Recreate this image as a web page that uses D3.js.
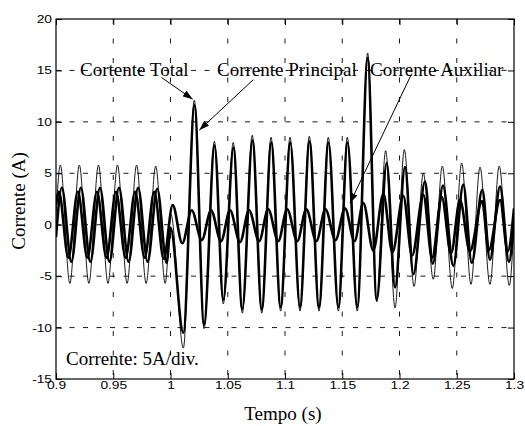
<!DOCTYPE html>
<html>
<head>
<meta charset="utf-8">
<script src="https://cdn.jsdelivr.net/npm/d3@7"></script>
<style>
  body { margin: 0; background: #fff; }
  svg { display: block; }
  .tick text { font-family: 'Liberation Sans', Arial, sans-serif; font-size: 11px; fill: #000; }
  .serif { font-family: 'Liberation Serif', 'Times New Roman', serif; font-size: 19px; fill: #000; }
</style>
</head>
<body>
<svg id="chart" width="525" height="426"></svg>
<script>
// tick labels
const xTicks = [0.9, 0.95, 1, 1.05, 1.1, 1.15, 1.2, 1.25, 1.3];
const yTicks = [-15, -10, -5, 0, 5, 10, 15, 20];

// [tempo (s), corrente (A)] read at the peaks / valleys of each trace
const correnteTotal = [
  [0.9, 0.8], [0.9038, 5.8], [0.9121, -5.7], [0.9204, 5.8], [0.9287, -5.7],
  [0.9371, 5.8], [0.9454, -5.7], [0.9537, 5.8], [0.9621, -5.7], [0.9704, 5.8],
  [0.9787, -5.7], [0.9871, 5.7], [0.9954, -5.7], [1.0004, 1.0], [1.0112, -12.0],
  [1.0208, 12.1], [1.0293, -10.1], [1.0383, 8.1], [1.0461, -7.7], [1.0548, 8.0],
  [1.0627, -8.6], [1.0714, 8.7], [1.0797, -8.6], [1.0878, 8.5], [1.0962, -8.4],
  [1.1044, 8.5], [1.1131, -8.4], [1.1212, 8.6], [1.1297, -8.4], [1.1378, 8.5],
  [1.1466, -8.4], [1.1544, 8.5], [1.1631, -8.4], [1.1722, 16.7], [1.1801, -7.5],
  [1.1879, 7.2], [1.1961, -8.1], [1.2042, 7.3], [1.2127, -6.0], [1.2208, 5.0],
  [1.2295, -5.3], [1.2374, 5.7], [1.2461, -6.2], [1.2543, 6.0], [1.2624, -5.8],
  [1.2703, 5.6], [1.279, -5.8], [1.2871, 5.7], [1.2959, -5.9], [1.3, 0.2],
];
const correntePrincipal = [
  [0.9, -1.2], [0.9051, 3.6], [0.9134, -3.6], [0.9217, 3.6], [0.93, -3.6],
  [0.9384, 3.6], [0.9467, -3.6], [0.955, 3.6], [0.9634, -3.6], [0.9717, 3.6],
  [0.98, -3.6], [0.9884, 3.5], [0.9966, -3.7], [1.0, -0.3], [1.0112, -10.5],
  [1.021, 11.6], [1.0293, -9.7], [1.0385, 7.7], [1.0461, -7.3], [1.055, 7.5],
  [1.0627, -8.2], [1.0716, 8.2], [1.0797, -8.2], [1.088, 8.0], [1.0962, -8.0],
  [1.1046, 8.0], [1.1131, -8.0], [1.1214, 8.1], [1.1297, -8.0], [1.138, 8.0],
  [1.1466, -8.0], [1.1546, 8.0], [1.1631, -8.0], [1.1722, 16.2], [1.1801, -7.3],
  [1.1888, 6.0], [1.1961, -6.1], [1.2048, 5.6], [1.2121, -4.8], [1.2223, 4.2],
  [1.229, -3.8], [1.238, 3.8], [1.247, -4.0], [1.2557, 3.9], [1.2631, -3.7],
  [1.2723, 3.4], [1.279, -3.4], [1.2878, 3.7], [1.2956, -3.6], [1.3, 0.5],
];
const correnteAuxiliar = [
  [0.9, 1.9], [0.9025, 3.2], [0.9108, -3.2], [0.9191, 3.2], [0.9274, -3.2],
  [0.9358, 3.2], [0.9441, -3.2], [0.9524, 3.2], [0.9608, -3.2], [0.9691, 3.2],
  [0.9774, -3.2], [0.9858, 3.2], [0.9941, -3.3], [1.0019, 1.9], [1.0103, -1.8],
  [1.0185, 1.4], [1.0273, -1.5], [1.0354, 1.4], [1.0441, -1.6], [1.052, 1.4],
  [1.0607, -1.7], [1.0686, 1.4], [1.0774, -1.6], [1.0853, 1.5], [1.0941, -1.6],
  [1.1019, 1.5], [1.1107, -1.6], [1.1186, 1.5], [1.1274, -1.6], [1.1353, 1.5],
  [1.1441, -1.5], [1.1524, 1.6], [1.1607, -1.6], [1.1684, 2.1], [1.1771, -2.5],
  [1.1859, 3.0], [1.1938, -2.7], [1.2033, 2.8], [1.211, -3.0], [1.2208, 2.9],
  [1.2285, -3.2], [1.2369, 2.7], [1.245, -2.8], [1.2528, 2.4], [1.2615, -2.6],
  [1.2721, 2.3], [1.278, -2.5], [1.2878, 2.4], [1.2945, -2.6], [1.3, 1.6],
];

// text notes and arrows, placed in data units
const notes = [
  { text: 'Cortente Total', t: 0.921, i: 14.5 },
  { text: 'Corrente Principal', t: 1.0406, i: 14.5 },
  { text: 'Corrente Auxiliar', t: 1.1742, i: 14.5 },
  { text: 'Corrente: 5A/div.', t: 0.9087, i: -13.6 },
];
const arrows = [
  { from: [0.9923, 14.3], to: [1.0194, 12.2] },
  { from: [1.0723, 14.1], to: [1.0252, 9.2] },
  { from: [1.2107, 14.7], to: [1.1568, 2.1] },
];

const margin = { top: 19, right: 11, bottom: 47, left: 56 };
const width = 525 - margin.left - margin.right;
const height = 426 - margin.top - margin.bottom;

const xScale = d3
  .scaleLinear()
  .domain([0.9, 1.3])
  .range([0, width]);

const yScale = d3
  .scaleLinear()
  .domain([-15, 20])
  .range([height, 0]);

const svg = d3.select('#chart');

svg.append('defs')
  .append('clipPath')
  .attr('id', 'plot')
  .append('rect')
  .attr('width', width)
  .attr('height', height);

svg.select('defs')
  .append('marker')
  .attr('id', 'head')
  .attr('viewBox', '0 0 10 7')
  .attr('refX', 10)
  .attr('refY', 3.5)
  .attr('markerWidth', 10)
  .attr('markerHeight', 7)
  .attr('markerUnits', 'userSpaceOnUse')
  .attr('orient', 'auto')
  .append('path')
  .attr('d', 'M0,0L10,3.5L0,7Z');

const g = svg.append('g')
  .attr('transform', `translate(${margin.left},${margin.top})`);

// dashed grid
g.selectAll('line.vgrid')
  .data(xTicks.slice(1, -1))
  .enter()
  .append('line')
  .attr('class', 'vgrid')
  .attr('x1', d => xScale(d))
  .attr('x2', d => xScale(d))
  .attr('y1', 0)
  .attr('y2', height)
  .attr('stroke', '#000')
  .attr('stroke-width', 0.9)
  .attr('stroke-dasharray', '5,14.5');

g.selectAll('line.hgrid')
  .data(yTicks.slice(1, -1))
  .enter()
  .append('line')
  .attr('class', 'hgrid')
  .attr('x1', 0)
  .attr('x2', width)
  .attr('y1', d => yScale(d))
  .attr('y2', d => yScale(d))
  .attr('stroke', '#000')
  .attr('stroke-width', 0.9)
  .attr('stroke-dasharray', '5,8.5');

// axes with inward ticks on all four sides
const fmt = d => String(d);
g.append('g')
  .attr('transform', `translate(0,${height})`)
  .call(d3.axisBottom(xScale).tickValues(xTicks).tickFormat(fmt).tickSizeInner(-6).tickSizeOuter(0).tickPadding(2));
g.append('g')
  .call(d3.axisTop(xScale).tickValues(xTicks).tickFormat('').tickSizeInner(-6).tickSizeOuter(0));
g.append('g')
  .call(d3.axisLeft(yScale).tickValues(yTicks).tickFormat(fmt).tickSizeInner(-6).tickSizeOuter(0).tickPadding(4));
g.append('g')
  .attr('transform', `translate(${width},0)`)
  .call(d3.axisRight(yScale).tickValues(yTicks).tickFormat('').tickSizeInner(-6).tickSizeOuter(0));
g.selectAll('.domain').remove();
g.selectAll('.tick line').attr('stroke', '#000');

// the tick font in the figure is drawn a little wide
g.selectAll('.tick text').each(function () {
  const w = this.getComputedTextLength();
  if (w > 0) {
    d3.select(this)
      .attr('textLength', w * 1.25)
      .attr('lengthAdjust', 'spacingAndGlyphs');
  }
});

// traces
const lineGenerator = d3
  .line()
  .curve(d3.curveMonotoneX)
  .x(d => xScale(d[0]))
  .y(d => yScale(d[1]));

const traces = g.append('g').attr('clip-path', 'url(#plot)');
traces.append('path')
  .attr('d', lineGenerator(correnteTotal))
  .attr('fill', 'none')
  .attr('stroke', '#000')
  .attr('stroke-width', 0.9);
traces.append('path')
  .attr('d', lineGenerator(correnteAuxiliar))
  .attr('fill', 'none')
  .attr('stroke', '#000')
  .attr('stroke-width', 2.6)
  .attr('stroke-linejoin', 'round');
traces.append('path')
  .attr('d', lineGenerator(correntePrincipal))
  .attr('fill', 'none')
  .attr('stroke', '#000')
  .attr('stroke-width', 2.6)
  .attr('stroke-linejoin', 'round');

// frame
g.append('rect')
  .attr('width', width)
  .attr('height', height)
  .attr('fill', 'none')
  .attr('stroke', '#000')
  .attr('stroke-width', 1.2);

// notes and arrows
g.selectAll('text.note')
  .data(notes)
  .enter()
  .append('text')
  .attr('class', 'note serif')
  .attr('x', d => xScale(d.t))
  .attr('y', d => yScale(d.i))
  .text(d => d.text);

g.selectAll('line.arrow')
  .data(arrows)
  .enter()
  .append('line')
  .attr('class', 'arrow')
  .attr('x1', d => xScale(d.from[0]))
  .attr('y1', d => yScale(d.from[1]))
  .attr('x2', d => xScale(d.to[0]))
  .attr('y2', d => yScale(d.to[1]))
  .attr('stroke', '#000')
  .attr('stroke-width', 1)
  .attr('marker-end', 'url(#head)');

// axis titles
g.append('text')
  .attr('class', 'serif')
  .attr('x', width / 2 - 2)
  .attr('y', height + 41)
  .attr('text-anchor', 'middle')
  .text('Tempo (s)');

g.append('text')
  .attr('class', 'serif')
  .attr('transform', `translate(-31,${height / 2 + 2}) rotate(-90)`)
  .attr('text-anchor', 'middle')
  .text('Corrente (A)');
</script>
</body>
</html>
